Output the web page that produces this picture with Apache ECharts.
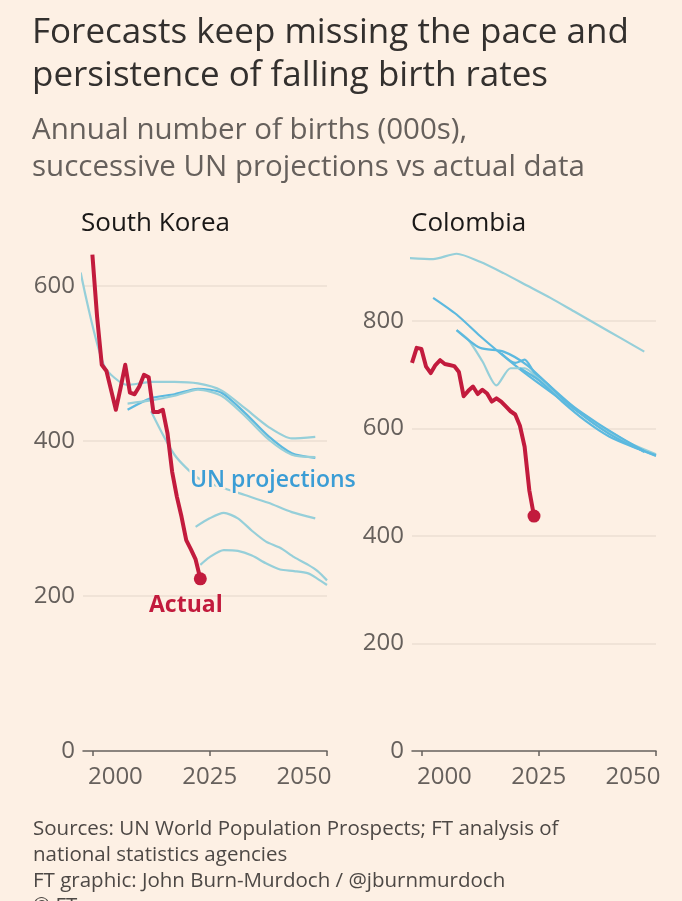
<!DOCTYPE html>
<html>
<head>
<meta charset="utf-8">
<title>Forecasts keep missing falling birth rates</title>
<script src="https://cdn.jsdelivr.net/npm/echarts@6/dist/echarts.min.js"></script>
<style>
  html, body { margin: 0; padding: 0; background: #fdf0e4; }
  #chart { width: 682px; height: 901px; }
</style>
</head>
<body>
<div id="chart"></div>
<script>
// x ticks shared by both panels
const yearTicks = [2000, 2025, 2050];

// South Korea, actual births (000s)
const krActual = [[2000,640],[2001,560],[2002,498],[2003,490],[2004,465],[2005,440],[2006,468],
  [2007,498],[2008,462],[2009,460],[2010,470],[2011,485],[2012,482],[2013,437],[2014,437],
  [2015,440],[2016,410],[2017,360],[2018,328],[2019,302],[2020,272],[2021,260],[2022,247],[2023,222]];

// South Korea, successive UN projections (older ones in 5-year steps)
const krProj1 = [[1997.5,617],[2002.5,497],[2007.5,472],[2012.5,476],[2017.5,476],[2022.5,474],
  [2027.5,465],[2032.5,442],[2037.5,418],[2042.5,403],[2047.5,405]];
const krProj2 = [[2007.5,440],[2012.5,455],[2017.5,460],[2022.5,467],[2027.5,462],[2032.5,436],
  [2037.5,406],[2042.5,384],[2047.5,378]];
const krProj3 = [[2007.5,448],[2012.5,452],[2017.5,458],[2022.5,466],[2027.5,458],[2032.5,432],
  [2037.5,402],[2042.5,382],[2047.5,379]];
const krProj4 = [[2012.5,438],[2017.5,382],[2022.5,352],[2027.5,340],[2032.5,330],[2037.5,320],
  [2042.5,308],[2047.5,300]];
const krProj5 = [[2022,289],[2025,300],[2028,307],[2031,300],[2034,284],[2037,270],[2040,262],
  [2043,250],[2046,240],[2048,232],[2050,220]];
const krProj6 = [[2023,240],[2025,250],[2028,259],[2031,258],[2034,252],[2037,242],[2040,234],
  [2043,232],[2046,229],[2048,222],[2050,214]];

// Colombia, actual births (000s)
const coActual = [[1998,722],[1999,750],[2000,748],[2001,715],[2002,703],[2003,718],[2004,727],
  [2005,720],[2006,718],[2007,716],[2008,705],[2009,660],[2010,670],[2011,678],[2012,664],
  [2013,672],[2014,665],[2015,650],[2016,656],[2017,650],[2018,641],[2019,632],[2020,626],
  [2021,605],[2022,566],[2023,485],[2024,437]];

// Colombia, successive UN projections
const coProj1 = [[1997.5,917],[2002.5,915],[2007.5,925],[2012.5,910],[2017.5,889],[2022.5,866],
  [2027.5,843],[2032.5,818],[2037.5,793],[2042.5,768],[2047.5,743]];
const coProj2 = [[2002.5,843],[2007.5,812],[2012.5,772],[2017.5,735],[2022.5,700],[2027.5,668],
  [2032.5,637],[2037.5,608],[2042.5,582],[2047.5,556]];
const coProj3 = [[2007.5,783],[2010,765],[2013,725],[2016,680],[2019,712],[2022,712],[2025,692],
  [2030,655],[2035,622],[2040,592],[2045,570],[2050,552]];
const coProj4 = [[2007.5,783],[2012.5,750],[2017.5,743],[2022.5,718],[2027.5,678],[2032.5,640],
  [2037.5,610],[2042.5,583],[2047.5,558]];
const coProj5 = [[2017,740],[2020,722],[2022,728],[2024,705],[2027,682],[2030,656],[2035,620],
  [2040,590],[2045,567],[2050,549]];
const coProj6 = [[2021,712],[2025,690],[2030,650],[2035,614],[2040,585],[2045,566],[2050,550]];

const BG = '#fdf0e4';
const GREY = '#66605c';
const RED = '#c21b3d';
const TEAL = '#96cfd9';
const BLUE = '#5cb9df';
const FONT = '"Open Sans", sans-serif';

const chart = echarts.init(document.getElementById('chart'));

function xAxis(gridIndex) {
  return {
    type: 'value', gridIndex: gridIndex, min: 1998, max: 2050,
    splitLine: { show: false },
    axisLine: { show: true, lineStyle: { color: GREY, width: 1.5 } },
    axisTick: { show: true, customValues: yearTicks, length: 5, lineStyle: { color: GREY, width: 1.5 } },
    axisLabel: {
      customValues: yearTicks, margin: 14, color: GREY, fontSize: 24, fontFamily: FONT,
      // first label sits right of its tick, last one left of it
      formatter: function (v) {
        if (v === 2000) return '{l|' + v + '}';
        if (v === 2050) return '{r|' + v + '}';
        return '{c|' + v + '}';
      },
      rich: {
        l: { padding: [0, 0, 0, 46], color: GREY, fontSize: 24, fontFamily: FONT },
        r: { padding: [0, 46, 0, 0], color: GREY, fontSize: 24, fontFamily: FONT },
        c: { color: GREY, fontSize: 24, fontFamily: FONT }
      }
    }
  };
}

function yAxis(gridIndex, max) {
  return {
    type: 'value', gridIndex: gridIndex, min: 0, max: max, interval: 200,
    axisLine: { show: false }, axisTick: { show: false },
    axisLabel: { color: GREY, fontSize: 24, fontFamily: FONT, margin: 8, showMaxLabel: false },
    splitLine: { show: true, showMinLine: false, showMaxLine: false, lineStyle: { color: '#ebdfd3', width: 1.5 } }
  };
}

function proj(data, idx, color) {
  return {
    type: 'line', xAxisIndex: idx, yAxisIndex: idx, data: data, showSymbol: false,
    smooth: 0.25, silent: true, z: 2,
    lineStyle: { color: color, width: 2.2 }
  };
}

function actual(data, idx) {
  return [
    { type: 'line', xAxisIndex: idx, yAxisIndex: idx, data: data, showSymbol: false, silent: true, z: 4,
      lineStyle: { color: RED, width: 4, join: 'round' } },
    { type: 'scatter', xAxisIndex: idx, yAxisIndex: idx, data: [data[data.length - 1]], symbolSize: 13,
      silent: true, z: 5, itemStyle: { color: RED, opacity: 1 } }
  ];
}

function text(x, y, str, size, color, weight) {
  return { type: 'text', x: x, y: y, style: {
    text: str, fill: color, font: (weight || 'normal') + ' ' + size + 'px ' + FONT, verticalAlign: 'middle' } };
}

const option = {
  backgroundColor: BG,
  animation: false,
  grid: [
    { left: 83, right: 355, top: 250, bottom: 150, outerBoundsMode: 'none' },
    { left: 412, right: 26, top: 250, bottom: 150, outerBoundsMode: 'none' }
  ],
  xAxis: [xAxis(0), xAxis(1)],
  yAxis: [yAxis(0, 646), yAxis(1, 932)],
  series: [
    proj(krProj1, 0, TEAL), proj(krProj2, 0, BLUE), proj(krProj3, 0, TEAL),
    proj(krProj4, 0, TEAL), proj(krProj5, 0, TEAL), proj(krProj6, 0, TEAL),
    proj(coProj1, 1, TEAL), proj(coProj2, 1, BLUE), proj(coProj3, 1, TEAL),
    proj(coProj4, 1, BLUE), proj(coProj5, 1, BLUE), proj(coProj6, 1, BLUE)
  ].concat(actual(krActual, 0), actual(coActual, 1)),
  graphic: [
    text(32, 33, 'Forecasts keep missing the pace and', 35, '#33302e'),
    text(32, 76, 'persistence of falling birth rates', 35, '#33302e'),
    text(32, 131, 'Annual number of births (000s),', 29.5, GREY),
    text(32, 168, 'successive UN projections vs actual data', 29.5, GREY),
    text(81, 224, 'South Korea', 26, '#1a1817'),
    text(411, 224, 'Colombia', 26, '#1a1817'),
    { type: 'text', x: 190, y: 480, z: 10, style: {
      text: 'UN projections', fill: '#3b9dd5', stroke: BG, lineWidth: 5,
      font: '600 23px ' + FONT, verticalAlign: 'middle' } },
    { type: 'text', x: 149, y: 605, z: 10, style: {
      text: 'Actual', fill: RED, font: 'bold 23px ' + FONT, verticalAlign: 'middle' } },
    text(33, 829, 'Sources: UN World Population Prospects; FT analysis of', 20.5, '#4d4845'),
    text(33, 855, 'national statistics agencies', 20.5, '#4d4845'),
    text(33, 881, 'FT graphic: John Burn-Murdoch / @jburnmurdoch', 20.5, '#4d4845'),
    text(33, 906, '\u00a9 FT', 20.5, '#4d4845')
  ]
};

chart.setOption(option);
</script>
</body>
</html>
